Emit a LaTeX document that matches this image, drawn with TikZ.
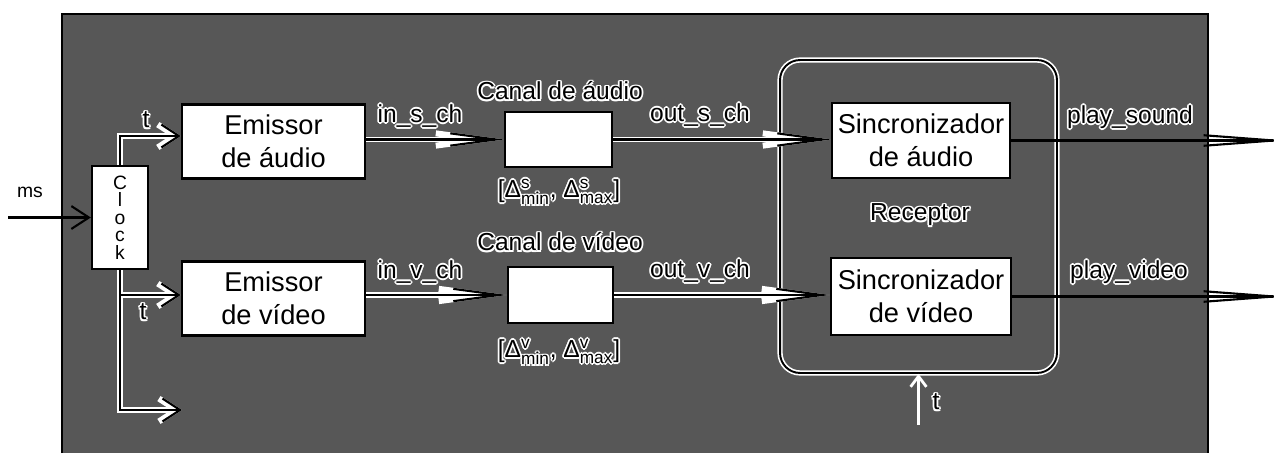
\documentclass[tikz,border=0pt]{standalone}
\usepackage{fontspec}
\setmainfont{Liberation Sans}
\usepackage{amsmath}
\usetikzlibrary{arrows.meta,calc}

\newcommand\hlab[3]{%
  \foreach \dx/\dy in {1/0,-1/0,0/1,0/-1,0.7/0.7,0.7/-0.7,-0.7/0.7,-0.7/-0.7}{
    \node[lbl,text=white] at ([shift={(\dx pt,\dy pt)}]#2) {#3};}
  \node[lbl] (#1) at (#2) {#3};}

\newcommand\connectors[1]{%
  \draw[#1,va] (clk.north) |- ([yshift=0.11cm]ea.west);
  \draw[#1,va] (clk.south) |- ([yshift=0.07cm]ev.west);
  \draw[#1,va] (clk.south) |- (t3);
  \draw[#1,la] (ea.east |- ca.west) -- (ca.west);
  \draw[#1,la] (ev.east |- cv.west) -- (cv.west);
  \draw[#1,la] (ca.east) -- (ca.east -| sa.west);
  \draw[#1,la] (cv.east) -- (cv.east -| sv.west);
}

\begin{document}
\begin{tikzpicture}[x=0.02cm,y=-0.02cm,
  box/.style={draw=black,fill=white,line width=1.3pt,inner sep=0pt,align=center,
              font=\fontsize{15.5}{18.5}\selectfont},
  lbl/.style={inner sep=0pt,font=\fontsize{14}{16}\selectfont},
  wire/.style={draw=black,line width=1.2pt},
  halo/.style={draw=white,line width=3.4pt},
  va/.style={-{Straight Barb[length=10pt,width=13pt]}},
  la/.style={-{Straight Barb[length=26pt,width=7pt]}},
  oa/.style={-{Straight Barb[length=40pt,width=6pt]}},
]
\useasboundingbox (0,0) rectangle (1288,453);
% background panel
\fill[black!66] (62,14) rectangle (1208,453);
\draw[black,line width=1.5pt] (62,453) -- (62,14) -- (1208,14) -- (1208,453);

% nodes
\node[box,minimum width=1.12cm,minimum height=2.06cm,font=\fontsize{11}{10}\selectfont] (clk) at (120,217.5) {C\\l\\o\\c\\k};
\node[box,minimum width=3.66cm,minimum height=1.48cm] (ea) at (273.5,141.5) {Emissor\\de áudio};
\node[box,minimum width=3.66cm,minimum height=1.48cm] (ev) at (273.5,298.5) {Emissor\\de vídeo};
\node[box,minimum width=2.14cm,minimum height=1.1cm] (ca) at (558.5,139.5) {};
\node[box,minimum width=2.1cm,minimum height=1.12cm] (cv) at (560.5,295) {};
\node[draw=white,line width=3pt,rounded corners=0.4cm,minimum width=5.54cm,minimum height=6.26cm] (recb) at (918.5,216.5) {};
\node[draw=black,line width=1.1pt,rounded corners=0.4cm,minimum width=5.54cm,minimum height=6.26cm] (rec) at (918.5,216.5) {};
\node[box,minimum width=3.56cm,minimum height=1.5cm] (sa) at (921,140.5) {Sincronizador\\de áudio};
\node[box,minimum width=3.6cm,minimum height=1.54cm] (sv) at (921,296.5) {Sincronizador\\de vídeo};

\coordinate (msin) at (8,217.5);
\coordinate (t3) at (182,410);
\coordinate (pso) at (1288,140.5);
\coordinate (pvo) at (1288,296.5);
\coordinate (rbot) at (918.5,425);

% connectors
\draw[wire,va] (msin) -- (clk.west);
\connectors{halo}
\connectors{wire}
\draw[wire,oa] (sa.east) -- (pso);
\draw[wire,oa] (sv.east) -- (pvo);
\draw[white,line width=1.6pt,-{Straight Barb[length=6pt,width=9pt]}] (rbot) -- (rec.south);

% labels
\node[lbl,font=\fontsize{11}{12}\selectfont] (ms) at (30,192) {ms};
\hlab{t1}{146,120}{t}
\hlab{t2}{143,312}{t}
\hlab{t4}{936,402}{t}
\hlab{ins}{420,116}{in\_s\_ch}
\hlab{inv}{420,272}{in\_v\_ch}
\hlab{outs}{700,115}{out\_s\_ch}
\hlab{outv}{700,271}{out\_v\_ch}
\hlab{cna}{560,91}{Canal de áudio}
\hlab{cnv}{560,242}{Canal de vídeo}
\hlab{dls}{559,192}{[Δ$^{\text{s}}_{\text{min}}$, Δ$^{\text{s}}_{\text{max}}$]}
\hlab{dlv}{559,352}{[Δ$^{\text{v}}_{\text{min}}$, Δ$^{\text{v}}_{\text{max}}$]}
\hlab{rlab}{920,215}{Receptor}
\hlab{pls}{1130,117}{play\_sound}
\hlab{plv}{1129,272}{play\_video}
\end{tikzpicture}
\end{document}
